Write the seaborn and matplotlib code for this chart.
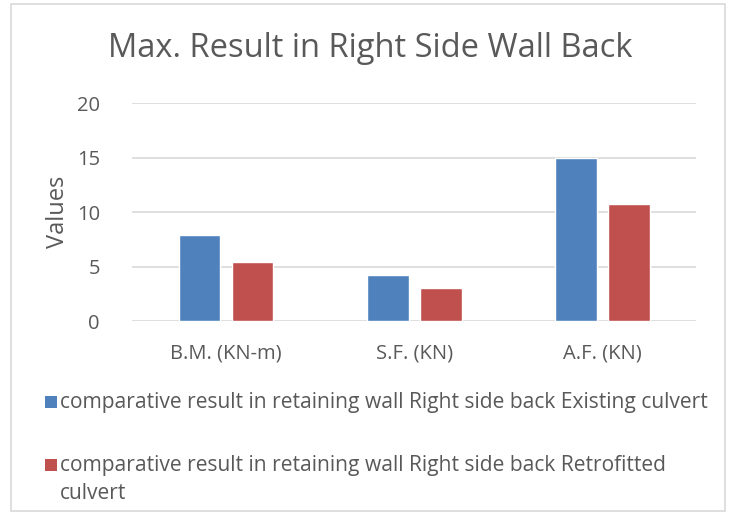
import matplotlib.pyplot as plt
import seaborn as sns
import pandas as pd
from matplotlib.patches import Rectangle

categories = ['B.M. (KN-m)', 'S.F. (KN)', 'A.F. (KN)']
existing = [7.93, 4.27, 14.94]
retrofitted = [5.38, 3.04, 10.76]
series_names = [
    'comparative result in retaining wall Right side back Existing culvert',
    'comparative result in retaining wall Right side back Retrofitted\nculvert',
]
colors = ['#4F81BD', '#C0504D']
yticks = [0, 5, 10, 15, 20]

TXT = '#595959'


def main():
    sns.set_theme(style='white')
    plt.rcParams['font.family'] = ['Open Sans', 'DejaVu Sans']

    df = pd.DataFrame({
        'category': categories * 2,
        'value': existing + retrofitted,
        'series': [series_names[0]] * 3 + [series_names[1]] * 3,
    })

    fig = plt.figure(figsize=(7.33, 5.13), dpi=100)
    ax = fig.add_axes([0.180, 0.374, 0.770, 0.425])
    sns.barplot(data=df, x='category', y='value', hue='series',
                palette=colors, width=0.564, gap=0.21, saturation=1,
                ax=ax, legend=False)

    ax.set_ylim(0, 20)
    ax.set_yticks(yticks)
    ax.yaxis.grid(True, color='#D9D9D9', linewidth=1.2)
    ax.set_axisbelow(True)
    for s in ax.spines.values():
        s.set_visible(False)
    ax.tick_params(axis='both', length=0, labelsize=14.5, colors=TXT)
    ax.tick_params(axis='y', pad=23)
    ax.tick_params(axis='x', pad=16)
    ax.set_xlabel('')
    ax.set_ylabel('Values', fontsize=17, color=TXT, labelpad=5)

    fig.text(0.505, 0.906, 'Max. Result in Right Side Wall Back',
             ha='center', va='center', fontsize=23.5, color=TXT)

    # legend below the plot: square marker + label per series,
    # the wrapped second label keeps its marker on the first line
    W, H = 733, 513
    sq = 12
    rows_y = [402, 465]
    for c, name, yc in zip(colors, series_names, rows_y):
        fig.patches.append(Rectangle((45 / W, 1 - (yc + sq / 2) / H),
                                     sq / W, sq / H, transform=fig.transFigure,
                                     facecolor=c, edgecolor='none'))
        fig.text(60 / W, 1 - (yc - 10) / H, name, ha='left', va='top',
                 fontsize=15.1, color=TXT, linespacing=1.42)

    # light frame around the chart
    fig.patches.append(Rectangle((0.015, 0.004), 0.974, 0.988,
                                 transform=fig.transFigure, fill=False,
                                 edgecolor='#D9D9D9', linewidth=1.2))

    fig.savefig('out.png', dpi=100)


if __name__ == '__main__':
    main()
